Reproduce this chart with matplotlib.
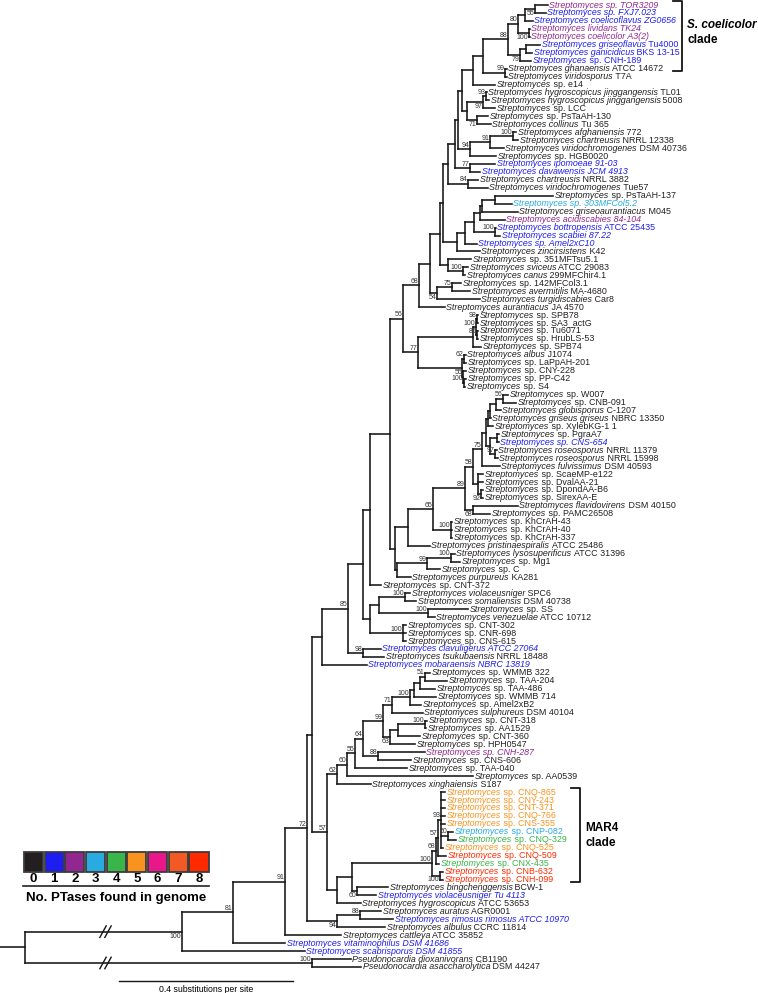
import matplotlib
matplotlib.use("Agg")
import matplotlib.pyplot as plt
from matplotlib.collections import LineCollection
from matplotlib.patches import Rectangle

plt.rcParams['font.family'] = ['Liberation Sans', 'DejaVu Sans']

# ---------------- data ----------------
LEAF_NAMES = [
    "Streptomyces sp. TOR3209", "Streptomyces sp. FXJ7.023", "Streptomyces coelicoflavus ZG0656",
    "Streptomyces lividans TK24", "Streptomyces coelicolor A3(2)", "Streptomyces griseoflavus Tu4000",
    "Streptomyces ganicidicus BKS 13-15", "Streptomyces sp. CNH-189", "Streptomyces ghanaensis ATCC 14672",
    "Streptomyces viridosporus T7A", "Streptomyces sp. e14", "Streptomyces hygroscopicus jinggangensis TL01",
    "Streptomyces hygroscopicus jinggangensis 5008", "Streptomyces sp. LCC", "Streptomyces sp. PsTaAH-130",
    "Streptomyces collinus Tu 365", "Streptomyces afghaniensis 772", "Streptomyces chartreusis NRRL 12338",
    "Streptomyces viridochromogenes DSM 40736", "Streptomyces sp. HGB0020", "Streptomyces ipomoeae 91-03",
    "Streptomyces davawensis JCM 4913", "Streptomyces chartreusis NRRL 3882", "Streptomyces viridochromogenes Tue57",
    "Streptomyces sp. PsTaAH-137", "Streptomyces sp. 303MFCol5.2", "Streptomyces griseoaurantiacus M045",
    "Streptomyces acidiscabies 84-104", "Streptomyces bottropensis ATCC 25435", "Streptomyces scabiei 87.22",
    "Streptomyces sp. Amel2xC10", "Streptomyces zincirsistens K42", "Streptomyces sp. 351MFTsu5.1",
    "Streptomyces sviceus ATCC 29083", "Streptomyces canus 299MFChir4.1", "Streptomyces sp. 142MFCol3.1",
    "Streptomyces avermitilis MA-4680", "Streptomyces turgidiscabies Car8", "Streptomyces aurantiacus JA 4570",
    "Streptomyces sp. SPB78", "Streptomyces sp. SA3_actG", "Streptomyces sp. Tu6071",
    "Streptomyces sp. HrubLS-53", "Streptomyces sp. SPB74", "Streptomyces albus J1074",
    "Streptomyces sp. LaPpAH-201", "Streptomyces sp. CNY-228", "Streptomyces sp. PP-C42",
    "Streptomyces sp. S4", "Streptomyces sp. W007", "Streptomyces sp. CNB-091",
    "Streptomyces globisporus C-1207", "Streptomyces griseus griseus NBRC 13350", "Streptomyces sp. XylebKG-1 1",
    "Streptomyces sp. PgraA7", "Streptomyces sp. CNS-654", "Streptomyces roseosporus NRRL 11379",
    "Streptomyces roseosporus NRRL 15998", "Streptomyces fulvissimus DSM 40593", "Streptomyces sp. ScaeMP-e122",
    "Streptomyces sp. DvalAA-21", "Streptomyces sp. DpondAA-B6", "Streptomyces sp. SirexAA-E",
    "Streptomyces flavidovirens DSM 40150", "Streptomyces sp. PAMC26508", "Streptomyces sp. KhCrAH-43",
    "Streptomyces sp. KhCrAH-40", "Streptomyces sp. KhCrAH-337", "Streptomyces pristinaespiralis ATCC 25486",
    "Streptomyces lysosuperificus ATCC 31396", "Streptomyces sp. Mg1", "Streptomyces sp. C",
    "Streptomyces purpureus KA281", "Streptomyces sp. CNT-372", "Streptomyces violaceusniger SPC6",
    "Streptomyces somaliensis DSM 40738", "Streptomyces sp. SS", "Streptomyces venezuelae ATCC 10712",
    "Streptomyces sp. CNT-302", "Streptomyces sp. CNR-698", "Streptomyces sp. CNS-615",
    "Streptomyces clavuligerus ATCC 27064", "Streptomyces tsukubaensis NRRL 18488", "Streptomyces mobaraensis NBRC 13819",
    "Streptomyces sp. WMMB 322", "Streptomyces sp. TAA-204", "Streptomyces sp. TAA-486",
    "Streptomyces sp. WMMB 714", "Streptomyces sp. Amel2xB2", "Streptomyces sulphureus DSM 40104",
    "Streptomyces sp. CNT-318", "Streptomyces sp. AA1529", "Streptomyces sp. CNT-360",
    "Streptomyces sp. HPH0547", "Streptomyces sp. CNH-287", "Streptomyces sp. CNS-606",
    "Streptomyces sp. TAA-040", "Streptomyces sp. AA0539", "Streptomyces xinghaiensis S187",
    "Streptomyces sp. CNQ-865", "Streptomyces sp. CNY-243", "Streptomyces sp. CNT-371",
    "Streptomyces sp. CNQ-766", "Streptomyces sp. CNS-355", "Streptomyces sp. CNP-082",
    "Streptomyces sp. CNQ-329", "Streptomyces sp. CNQ-525", "Streptomyces sp. CNQ-509",
    "Streptomyces sp. CNX-435", "Streptomyces sp. CNB-632", "Streptomyces sp. CNH-099",
    "Streptomyces bingchenggensis BCW-1", "Streptomyces violaceusniger Tu 4113", "Streptomyces hygroscopicus ATCC 53653",
    "Streptomyces auratus AGR0001", "Streptomyces rimosus rimosus ATCC 10970", "Streptomyces albulus CCRC 11814",
    "Streptomyces cattleya ATCC 35852", "Streptomyces vitaminophilus DSM 41686", "Streptomyces scabrisporus DSM 41855",
    "Pseudonocardia dioxanivorans CB1190", "Pseudonocardia asaccharolytica DSM 44247",
]

# number of PTases found in each genome (colour of the label)
LEAF_PTASES = [
    2, 1, 1, 2, 2, 1, 1, 1, 0, 0,
    0, 0, 0, 0, 0, 0, 0, 0, 0, 0,
    1, 1, 0, 0, 0, 3, 0, 2, 1, 1,
    1, 0, 0, 0, 0, 0, 0, 0, 0, 0,
    0, 0, 0, 0, 0, 0, 0, 0, 0, 0,
    0, 0, 0, 0, 0, 1, 0, 0, 0, 0,
    0, 0, 0, 0, 0, 0, 0, 0, 0, 0,
    0, 0, 0, 0, 0, 0, 0, 0, 0, 0,
    0, 1, 0, 1, 0, 0, 0, 0, 0, 0,
    0, 0, 0, 0, 2, 0, 0, 0, 0, 5,
    5, 5, 5, 5, 3, 4, 5, 8, 4, 8,
    8, 0, 1, 0, 0, 1, 0, 0, 1, 1,
    0, 0,
]

# labels written fully in italics
ALL_ITALIC = [0, 1, 2, 3, 4, 20, 21, 25, 27, 29, 30, 55, 81, 83, 94, 112, 115, 118, 119]

# tree: clade -> [(child, branch length)], leaves are integer indices.
# Branch lengths in units where the 0.4 substitutions/site scale bar = 174 units.
BRANCH_UNIT = 0.4 / 174
ROOT_STUB = 25
TREE = {
    'root':   [('strep', 157), ('pseudo', 287)],
    'pseudo': [(120, 39), (121, 49)],
    'strep':  [('b', 51), (119, 123)],
    'b':      [('c', 52), (118, 52)],
    'c':      [('d', 22), (117, 56)],
    'd':      [('m', 5), ('e94', 30)],
    'e94':    [('n88r', 23), (116, 48)],
    'n88r':   [(114, 21), (115, 33)],
    'm':      [('p', 10), ('n57', 15)],
    'n57':    [('n62', 10), ('e', 10)],
    'e':      [('f', 15), (113, 24)],
    'f':      [('mar4', 80), ('h60', 5)],
    'h60':    [(111, 31), (112, 19)],
    'mar4':   [('m68', 4), ('mcn', 8)],
    'mcn':    [(109, 3), (110, 3)],
    'm68':    [('m57', 2), (108, 3)],
    'm57':    [('m93', 3), (107, 8)],
    'm93':    [(99, 4), (100, 4), (101, 4), (102, 4), (103, 4), ('m50', 7), (106, 2)],
    'm50':    [(104, 5), (105, 8)],
    'n62':    [('n60', 10), (98, 34)],
    'n60':    [('n55', 8), (97, 126)],
    'n55':    [('n64', 8), (96, 52)],
    'n64':    [('n99', 20), ('n88', 15)],
    'n88':    [(94, 47), (95, 33)],
    'n99':    [('n71', 9), ('n63', 7)],
    'n63':    [('na', 8), (93, 25)],
    'na':     [('n100t', 27), (92, 22)],
    'n100t':  [(90, 2), (91, 1)],
    'n71':    [('n100b', 18), (89, 31)],
    'n100b':  [('nc', 4), (88, 11)],
    'nc':     [('nb', 6), (87, 22)],
    'nb':     [('n51', 5), (86, 15)],
    'n51':    [(84, 5), (85, 22)],
    'p':      [('n85', 26), (83, 45)],
    'n85':    [('q', 15), ('n98', 15)],
    'n98':    [(81, 18), (82, 21)],
    'q':      [('v', 7), ('q3', 7)],
    'q3':     [('r', 9), ('n100c', 33)],
    'n100c':  [(78, 3), (79, 3), (80, 3)],
    'r':      [('vs', 26), ('ss', 49)],
    'vs':     [(74, 5), (75, 11)],
    'ss':     [(76, 40), (77, 7)],
    'v':      [('y', 20), (73, 11)],
    'y':      [('n56', 13), ('z', 5)],
    'z':      [('npr', 13), ('nly', 2)],
    'nly':    [('n99ly', 30), (72, 14)],
    'n99ly':  [('n100ly', 24), (71, 13)],
    'n100ly': [(69, 4), (70, 9)],
    'npr':    [('n65', 25), (68, 22)],
    'n65':    [('n89', 32), ('kh', 18)],
    'kh':     [(65, 1), (66, 1), (67, 1)],
    'n89':    [('n58', 8), ('n66', 8)],
    'n66':    [(63, 45), (64, 17)],
    'n58':    [('n75', 9), ('dv', 5)],
    'dv':     [(59, 5), (60, 5), ('n92', 3)],
    'n92':    [(61, 2), (62, 2)],
    'n75':    [('nx', 4), (58, 18)],
    'nx':     [('ntop', 2), ('nbot', 4)],
    'nbot':   [('npc', 7), ('n97', 5)],
    'n97':    [(56, 2), (57, 3)],
    'npc':    [(54, 2), (55, 2)],
    'ntop':   [('ngg', 2), (53, 5)],
    'ngg':    [('ngl', 6), (52, 1)],
    'ngl':    [('n56w', 7), (51, 5)],
    'n56w':   [(49, 5), (50, 13)],
    'n56':    [('na68', 16), ('n77', 15)],
    'n77':    [('nspb', 55), ('nalb', 44)],
    'nalb':   [('n62a', 2), ('n55a', 1)],
    'n55a':   [(46, 3), ('n100a', 1)],
    'n100a':  [(47, 2), (48, 1)],
    'n62a':   [(44, 2), (45, 2)],
    'nspb':   [('nsa', 3), (43, 8)],
    'nsa':    [('n98s', 1), ('n85s', 1)],
    'n98s':   [(39, 1), (40, 1)],
    'n85s':   [(41, 1), (42, 1)],
    'na68':   [('n68b', 11), (38, 26)],
    'n68b':   [('nt', 10), ('n54', 7)],
    'n54':    [('n75b', 15), (37, 43)],
    'n75b':   [(35, 9), (36, 18)],
    'nt':     [('nt2', 3), ('ns', 8)],
    'ns':     [(32, 23), ('n100sv', 15)],
    'n100sv': [(33, 5), (34, 2)],
    'nt2':    [('top', 5), ('nv', 14)],
    'nv':     [('nam', 8), (31, 23)],
    'nam':    [('nw', 9), (30, 12)],
    'nw':     [('nac', 6), ('n100b2', 21)],
    'n100b2': [(28, 1), (29, 5)],
    'nac':    [('nga', 2), (27, 25)],
    'nga':    [('npg', 13), (26, 36)],
    'npg':    [(24, 58), (25, 17)],
    'top':    [('a1', 7), ('n84c', 20)],
    'n84c':   [(22, 10), (23, 20)],
    'a1':     [('a2', 3), ('nipd', 15)],
    'nipd':   [(20, 25), (21, 10)],
    'a2':     [('a3', 4), ('n94', 12)],
    'n94':    [('n91', 20), (19, 26)],
    'n91':    [('n100af', 23), (18, 14)],
    'n100af': [(16, 3), (17, 5)],
    'a3':     [('a4', 11), ('a5', 5)],
    'a5':     [('nhg', 16), ('n71p', 10)],
    'n71p':   [(14, 11), (15, 14)],
    'nhg':    [('n93', 3), (13, 12)],
    'n93':    [(11, 1), (12, 3)],
    'a4':     [('x483', 10), (10, 22)],
    'x483':   [('c88', 25), ('c99', 22)],
    'c99':    [(8, 2), (9, 2)],
    'c88':    [('c4', 10), ('c5', 12)],
    'c5':     [('c6', 6), (7, 11)],
    'c6':     [(5, 14), (6, 6)],
    'c4':     [('c2', 7), ('c3', 11)],
    'c3':     [(3, 1), (4, 1)],
    'c2':     [('c1', 10), (2, 8)],
    'c1':     [(0, 13), (1, 11)],
}

SUPPORT = {
    'pseudo': 100, 'strep': 100, 'b': 81, 'c': 91, 'd': 72, 'e94': 94, 'n88r': 88, 'n57': 57,
    'h60': 60, 'mar4': 100, 'mcn': 100, 'm68': 68, 'm57': 57, 'm93': 93, 'm50': 50, 'n62': 62,
    'n60': 60, 'n55': 55, 'n64': 64, 'n88': 88, 'n99': 99, 'n63': 63, 'n100t': 100, 'n71': 71,
    'n100b': 100, 'n51': 51, 'n85': 85, 'n98': 98, 'n100c': 100, 'vs': 100, 'ss': 100,
    'n99ly': 99, 'n100ly': 100, 'n65': 65, 'kh': 100, 'n89': 89, 'n66': 68, 'n58': 58,
    'n92': 92, 'n75': 75, 'n97': 97, 'n56w': 56, 'n56': 56, 'n77': 77, 'n62a': 62, 'n55a': 55,
    'n100a': 100, 'nsa': 100, 'n98s': 98, 'n85s': 85, 'na68': 68, 'n54': 54, 'n75b': 75,
    'n100sv': 100, 'n100b2': 100, 'n84c': 84, 'nipd': 77, 'n94': 94, 'n91': 91, 'n100af': 100,
    'n71p': 71, 'nhg': 97, 'n93': 93, 'c99': 99, 'c88': 88, 'c5': 79, 'c3': 100, 'c4': 80,
    'c1': 55,
}
# support values printed under (rather than over) the branch
SUPPORT_BELOW = ['c1', 'c3', 'c5', 'nhg', 'n71p', 'n54', 'n63', 'h60', 'n92',
                 'n66', 'mcn', 'e94', 'strep']

PTASE_LEVELS = [0, 1, 2, 3, 4, 5, 6, 7, 8]
LEVEL_COLORS = ['#231f20', '#1e1ef0', '#92278f', '#29abe2', '#39b54a',
                '#f7931e', '#e8178a', '#f15a24', '#ff2a00']
LEGEND_TITLE = "No. PTases found in genome"
SCALE_BAR = 0.4
SCALE_TEXT = "0.4 substitutions per site"
CLADE_BRACKETS = [("S. coelicolor", "clade", 0, 8), ("MAR4", "clade", 99, 110)]

# ---------------- layout ----------------
W, H = 758, 993
LEAF_Y0, LEAF_DY = 5.0, 7.95          # pixel position of first leaf and spacing
FS_LEAF = 6.4

X, Y = {}, {}
counter = [0]


def place(node, x):
    X[node] = x
    if isinstance(node, int):
        Y[node] = counter[0]
        counter[0] += 1
        return
    for child, length in TREE[node]:
        place(child, x + length * BRANCH_UNIT)
    kids = TREE[node]
    Y[node] = 0.5 * (Y[kids[0][0]] + Y[kids[-1][0]])


place('root', ROOT_STUB * BRANCH_UNIT)

fig = plt.figure(figsize=(W / 100, H / 100), dpi=100)
ax = fig.add_axes([0, 0, 1, 1])
ax.set_xlim(0, W * BRANCH_UNIT)
ax.set_ylim((H - LEAF_Y0) / LEAF_DY, -LEAF_Y0 / LEAF_DY)
ax.axis('off')
px = fig.add_axes([0, 0, 1, 1])
px.set_xlim(0, W)
px.set_ylim(H, 0)
px.axis('off')

u = BRANCH_UNIT  # one unit in x (about 1 pixel)

segs = [[(0, Y['root']), (X['root'], Y['root'])]]
for node, kids in TREE.items():
    segs.append([(X[node], Y[kids[0][0]]), (X[node], Y[kids[-1][0]])])
    for child, _ in kids:
        segs.append([(X[node], Y[child]), (X[child], Y[child])])
ax.add_collection(LineCollection(segs, colors='#151515', linewidths=1.15, capstyle='projecting'))

# broken root branches
for child, _ in TREE['root']:
    for off in (0, 5):
        bx = 103 * u + off * u
        ax.plot([bx - 3.5 * u, bx + 3.5 * u], [Y[child] + 0.8, Y[child] - 0.8],
                color='#151515', lw=1.0, solid_capstyle='butt')

# support values
for node, val in SUPPORT.items():
    if node in SUPPORT_BELOW:
        ax.text(X[node] - 0.6 * u, Y[node] + 0.12, str(val), ha='right', va='top',
                fontsize=5.0, color='#333333')
    else:
        ax.text(X[node] - 0.6 * u, Y[node] - 0.05, str(val), ha='right', va='bottom',
                fontsize=5.0, color='#333333')


def n_italic(words):
    k = 1
    for w in words[1:]:
        if w.isalpha() and w.islower():
            k += 1
        else:
            break
    return k


for i, name in enumerate(LEAF_NAMES):
    words = name.split(' ')
    k = len(words) if i in ALL_ITALIC else n_italic(words)
    ital, plain = ' '.join(words[:k]), ' '.join(words[k:])
    col = LEVEL_COLORS[LEAF_PTASES[i]]
    t = ax.text(X[i] + 1.5 * u, Y[i], ital, style='italic', fontsize=FS_LEAF,
                color=col, ha='left', va='center')
    if plain:
        ax.annotate(' ' + plain, xy=(1, 0), xycoords=t, ha='left', va='bottom',
                    fontsize=FS_LEAF, color=col)

# clade brackets
bracket_x = [682, 580]
for (l1, l2, a, b), bxp in zip(CLADE_BRACKETS, bracket_x):
    y1 = Y[a] - 0.5
    y2 = Y[b] + 0.35
    bx = bxp * u
    ax.plot([bx - 9 * u, bx, bx, bx - 9 * u], [y1, y1, y2, y2], color='#151515', lw=1.3)
    ym = 0.5 * (y1 + y2)
    if a == 0:
        ym -= 0.5
    ax.text(bx + 5 * u, ym - 0.85, l1, fontsize=8.5, fontweight='bold',
            style='italic' if '.' in l1 else 'normal', ha='left', va='center')
    ax.text(bx + 5 * u, ym + 1.0, l2, fontsize=8.5, fontweight='bold', ha='left', va='center')

# scale bar
sx0 = 119 * u
sy = (981 - LEAF_Y0) / LEAF_DY
ax.plot([sx0, sx0 + SCALE_BAR], [sy, sy], color='#151515', lw=1.0)
ax.text(sx0 + SCALE_BAR / 2, sy + 0.55, SCALE_TEXT, ha='center', va='top', fontsize=6.3)

# legend
lx0, lw_sq = 23, 20.7
for k in PTASE_LEVELS:
    px.add_patch(Rectangle((lx0 + k * lw_sq + 0.8, 852), lw_sq - 1.6, 20,
                           facecolor=LEVEL_COLORS[k], edgecolor='#3c3c3c', lw=1.3))
    px.text(lx0 + k * lw_sq + lw_sq / 2, 879, str(k), ha='center', va='center',
            fontsize=9.5, fontweight='bold')
px.plot([lx0, lx0 + 9 * lw_sq], [886, 886], color='#222222', lw=1.2)
px.text(lx0 + 9 * lw_sq / 2, 898, LEGEND_TITLE, ha='center', va='center',
        fontsize=9.5, fontweight='bold')

fig.savefig('out.png', dpi=100)
